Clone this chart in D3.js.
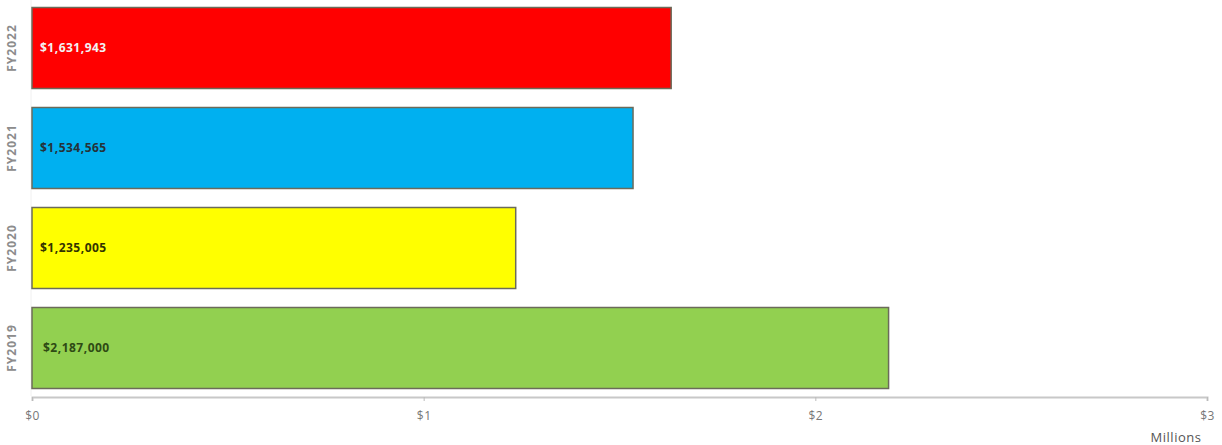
<!DOCTYPE html>
<html lang="en">
<head>
    <meta charset="utf-8">
    <script src="https://cdn.jsdelivr.net/npm/d3@7"></script>
    <style>
        body { margin: 0; background: #fff; }
        text { font-family: "Open Sans", "DejaVu Sans", sans-serif; }
    </style>
</head>
<body>
    <div id="my_dataviz"></div>
<script>
    // data
    const years = ["FY2022", "FY2021", "FY2020", "FY2019"];
    const amounts = [1631943, 1534565, 1235005, 2187000];
    const barColors = ["#ff0000", "#00b0f0", "#ffff00", "#92d050"];
    const labelColors = ["#f2f2f2", "#263238", "#333300", "#2e4a14"];
    const tickValues = [0, 1000000, 2000000, 3000000];
    const tickLabels = ["$0", "$1", "$2", "$3"];

    const svgWidth = 1222;
    const svgHeight = 445;

    const svg = d3.select("#my_dataviz")
        .append("svg")
        .attr("width", svgWidth)
        .attr("height", svgHeight);

    const xScale = d3.scaleLinear()
        .domain([0, 3000000])
        .range([32, 1207]);

    const yScale = d3.scaleBand()
        .domain(years)
        .range([-2, 398])
        .paddingInner(0.19)
        .paddingOuter(0.095);

    // x axis
    const xAxis = svg.append("g")
        .attr("transform", "translate(0,397)")
        .call(d3.axisBottom(xScale)
            .tickValues(tickValues)
            .tickFormat((d, i) => tickLabels[i])
            .tickSize(4)
            .tickPadding(10));
    xAxis.select(".domain").attr("stroke", "#c8c8c8").attr("stroke-width", 2);
    xAxis.selectAll(".tick line").attr("stroke", "#bbb");
    xAxis.selectAll(".tick text")
        .attr("fill", "#777")
        .style("font-size", "12px")
        .style("letter-spacing", "0.5px");

    // faint left line
    svg.append("line")
        .attr("x1", xScale(0) - 1).attr("x2", xScale(0) - 1)
        .attr("y1", 0).attr("y2", 396)
        .attr("stroke", "#f0f0f0");

    // bars
    svg.selectAll("rect.bar")
        .data(years)
        .enter()
        .append("rect")
        .attr("class", "bar")
        .attr("x", xScale(0))
        .attr("y", d => yScale(d))
        .attr("width", (d, i) => xScale(amounts[i]) - xScale(0))
        .attr("height", yScale.bandwidth())
        .attr("fill", (d, i) => barColors[i])
        .attr("stroke", "#6b6b5a")
        .attr("stroke-width", 1.5);

    // value labels
    const fmt = d3.format(",");
    svg.selectAll("text.value")
        .data(years)
        .enter()
        .append("text")
        .attr("class", "value")
        .attr("x", (d, i) => xScale(0) + (i === 3 ? 11 : 8))
        .attr("y", d => yScale(d) + yScale.bandwidth() / 2)
        .attr("dy", "0.35em")
        .attr("fill", (d, i) => labelColors[i])
        .style("font-size", "12px")
        .style("font-weight", "bold")
        .style("letter-spacing", "0.5px")
        .text((d, i) => "$" + fmt(amounts[i]));

    // y labels
    svg.selectAll("text.year")
        .data(years)
        .enter()
        .append("text")
        .attr("class", "year")
        .attr("transform", d => `translate(16,${yScale(d) + yScale.bandwidth() / 2}) rotate(-90)`)
        .attr("text-anchor", "middle")
        .attr("fill", "#8c8c8c")
        .style("font-size", "12px")
        .style("font-weight", "bold")
        .style("letter-spacing", "1px")
        .text(d => d);

    svg.append("text")
        .attr("x", 1176)
        .attr("y", 442)
        .attr("text-anchor", "middle")
        .attr("fill", "#555")
        .style("font-size", "13px")
        .style("letter-spacing", "0.5px")
        .text("Millions");
</script>
</body>
</html>
